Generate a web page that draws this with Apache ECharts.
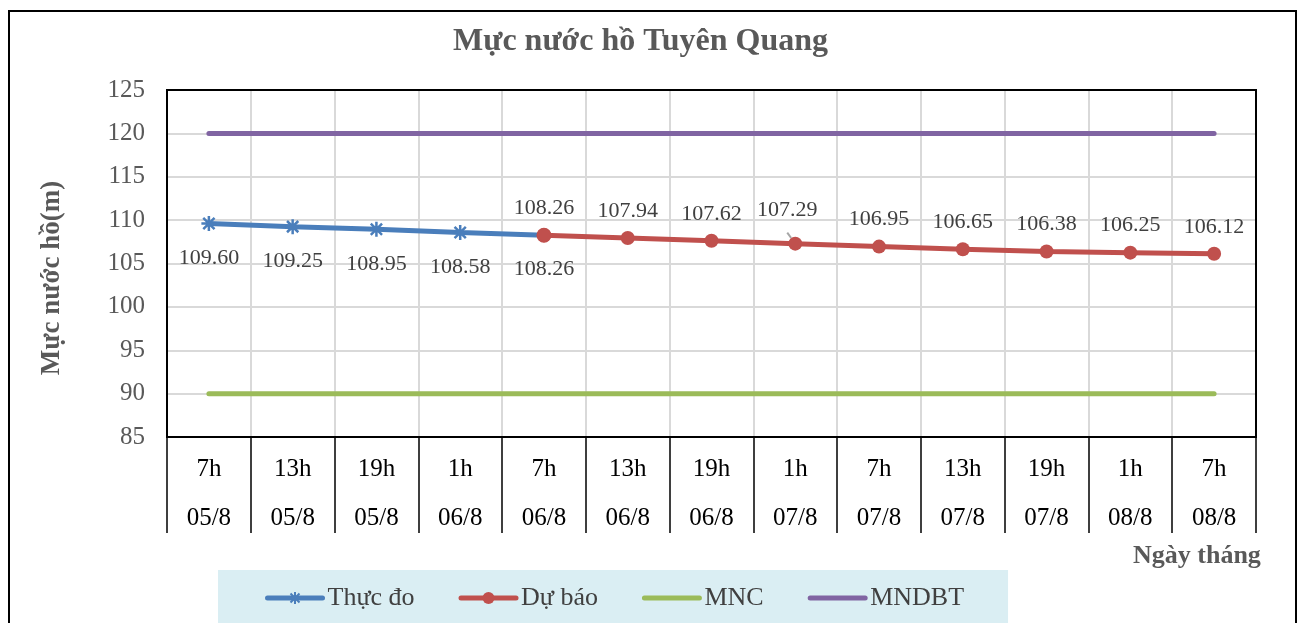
<!DOCTYPE html>
<html lang="vi">
<head>
<meta charset="UTF-8" />
<script src="https://cdn.jsdelivr.net/npm/echarts@6/dist/echarts.min.js"></script>
<style>
  html, body { margin: 0; padding: 0; background: #fff; }
  #main { width: 1306px; height: 623px; }
</style>
</head>
<body>
<div id="main"></div>
<script>
// du lieu doc tu hinh
var gioList = ['7h', '13h', '19h', '1h', '7h', '13h', '19h', '1h', '7h', '13h', '19h', '1h', '7h'];
var ngayList = ['05/8', '05/8', '05/8', '06/8', '06/8', '06/8', '06/8', '07/8', '07/8', '07/8', '07/8', '08/8', '08/8'];
var thucDo = [109.60, 109.25, 108.95, 108.58, 108.26, null, null, null, null, null, null, null, null];
var duBao = [null, null, null, null, 108.26, 107.94, 107.62, 107.29, 106.95, 106.65, 106.38, 106.25, 106.12];
var mnc = [90, 90, 90, 90, 90, 90, 90, 90, 90, 90, 90, 90, 90];
var mndbt = [120, 120, 120, 120, 120, 120, 120, 120, 120, 120, 120, 120, 120];
var yTicks = [85, 90, 95, 100, 105, 110, 115, 120, 125];

var serif = '"Liberation Serif", "Times New Roman", serif';
var categories = gioList.map(function (g, i) { return g + '\n' + ngayList[i]; });

// diem cuoi cua thuc do nam duoi cham du bao
var thucDoData = thucDo.map(function (v, i) {
	if (v !== null && duBao[i] !== null) {
		return { value: v, symbol: 'circle', itemStyle: { color: '#c0504d', borderWidth: 0 } };
	}
	return v;
});

// diem 107.29 co duong dan nhan
var duBaoData = duBao.map(function (v, i) {
	if (i === 7) {
		return { value: v, label: { offset: [-8, -6] }, labelLine: { show: true } };
	}
	return v;
});

var myChart = echarts.init(document.getElementById('main'));
myChart.setOption({
	animation: false,
	title: [
		{
			text: 'Mực nước hồ Tuyên Quang',
			left: 453, top: 26, padding: 0,
			textStyle: { fontFamily: serif, fontSize: 32, fontWeight: 'bold', color: '#595959' }
		},
		{
			text: 'Ngày tháng',
			left: 1133, top: 543, padding: 0,
			textStyle: { fontFamily: serif, fontSize: 26, fontWeight: 'bold', color: '#595959' }
		}
	],
	graphic: [
		{
			type: 'rect', silent: true, z: -1,
			shape: { x: 9, y: 11, width: 1287, height: 640 },
			style: { fill: 'none', stroke: '#000', lineWidth: 2 }
		},
		{
			// ten truc tung
			type: 'text', silent: true,
			x: 52, y: 278, rotation: Math.PI / 2,
			style: {
				text: 'Mực nước hồ(m)',
				fontFamily: serif, fontSize: 27, fontWeight: 'bold', fill: '#595959',
				align: 'center', verticalAlign: 'middle'
			}
		}
	],
	legend: {
		left: 218, top: 570,
		backgroundColor: '#daeef3',
		padding: [15, 44, 20, 47],
		itemWidth: 55, itemHeight: 15, itemGap: 44,
		lineStyle: { width: 5 },
		textStyle: { fontFamily: serif, fontSize: 26, color: '#404040' },
		data: [
			{ name: 'Thực đo' },
			{ name: 'Dự báo' },
			{ name: 'MNC', itemStyle: { opacity: 0 } },
			{ name: 'MNDBT', itemStyle: { opacity: 0 } }
		]
	},
	grid: {
		left: 167, right: 50, top: 90, bottom: 186,
		show: true, borderColor: '#000', borderWidth: 2, z: 5
	},
	xAxis: {
		type: 'category',
		data: categories,
		boundaryGap: true,
		axisLine: { lineStyle: { color: '#000', width: 2 } },
		axisTick: { show: true, interval: 0, length: 96, lineStyle: { color: '#000', width: 1.5 } },
		axisLabel: {
			interval: 0, margin: 8,
			fontFamily: serif, fontSize: 25, color: '#000', lineHeight: 49
		},
		splitLine: { show: true, interval: 0, lineStyle: { color: '#d9d9d9', width: 2 } }
	},
	yAxis: {
		type: 'value',
		min: yTicks[0], max: yTicks[yTicks.length - 1], interval: 5,
		axisLine: { show: true, lineStyle: { color: '#000', width: 2 } },
		axisTick: { show: false },
		axisLabel: { margin: 22, fontFamily: serif, fontSize: 25, color: '#595959' },
		splitLine: { lineStyle: { color: '#d9d9d9', width: 2 } }
	},
	series: [
		{
			name: 'MNC', type: 'line', data: mnc,
			symbol: 'none', color: '#9bbb59',
			lineStyle: { width: 5, cap: 'round' }
		},
		{
			name: 'MNDBT', type: 'line', data: mndbt,
			symbol: 'none', color: '#8064a2',
			lineStyle: { width: 5, cap: 'round' }
		},
		{
			name: 'Thực đo', type: 'line', data: thucDoData,
			color: '#4a7ebb',
			symbol: 'path://M0,-6L0,6M-6,0L6,0M-4.5,-4.5L4.5,4.5M-4.5,4.5L4.5,-4.5',
			symbolSize: 15,
			showAllSymbol: true,
			itemStyle: { color: '#4a7ebb', borderColor: '#4a7ebb', borderWidth: 2.5 },
			lineStyle: { width: 5, cap: 'round' },
			label: {
				show: true, position: 'bottom', distance: 15,
				fontFamily: serif, fontSize: 22, color: '#404040',
				formatter: function (p) { return p.value.toFixed(2); }
			},
			z: 3
		},
		{
			name: 'Dự báo', type: 'line', data: duBaoData,
			color: '#c0504d',
			symbol: 'circle', symbolSize: 14,
			lineStyle: { width: 5, cap: 'round' },
			label: {
				show: true, position: 'top', distance: 9,
				fontFamily: serif, fontSize: 22, color: '#404040',
				formatter: function (p) { return p.value.toFixed(2); }
			},
			labelLine: { show: false, lineStyle: { color: '#a6a6a6', width: 2 } },
			z: 4
		}
	]
});
</script>
</body>
</html>
